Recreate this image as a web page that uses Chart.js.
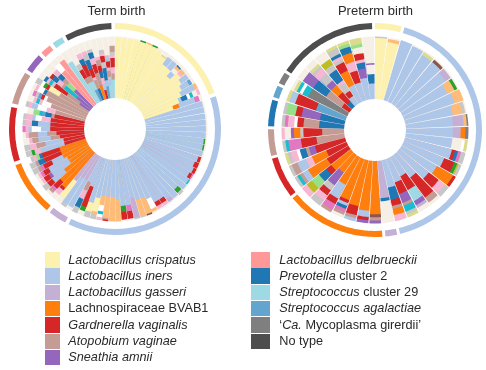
<!DOCTYPE html>
<html><head><meta charset="utf-8">
<script src="https://cdn.jsdelivr.net/npm/chart.js@4"></script>
<style>
html,body{margin:0;padding:0;background:#fff;width:486px;height:370px;overflow:hidden}
body{position:relative;font-family:"Liberation Sans",Arial,sans-serif;color:#2a2a2a}
canvas{position:absolute;filter:blur(0.35px)}
.t{position:absolute;font-size:13px;line-height:14px;white-space:nowrap;transform:translateX(-50%);filter:blur(0.25px)}
.sw{position:absolute;filter:blur(0.3px)}
.lb{position:absolute;font-size:12.7px;line-height:14px;white-space:nowrap;filter:blur(0.25px)}
</style></head><body>
<div class="t" style="left:116.5px;top:3.5px">Term birth</div>
<div class="t" style="left:375.5px;top:3.5px">Preterm birth</div>
<canvas id="term"></canvas>
<canvas id="preterm"></canvas>
<div id="legend"></div>
<script>
const palette = {A:'#FDF1B0',B:'#AEC7E8',C:'#C5B0D5',D:'#FF7F0E',E:'#D62728',F:'#C49C94',G:'#9467BD',H:'#FF9896',
  I:'#1F77B4',J:'#9EDAE5',K:'#64A5CF',L:'#7F7F7F',M:'#4D4D4D',N:'#FFBB78',O:'#2CA02C',P:'#98DF8A',Q:'#E377C2',
  R:'#F7B6D2',S:'#17BECF',T:'#BCBD22',U:'#DBDB8D',V:'#8C564B',W:'#C7C7C7',Y:'#F5EFE6',Z:'#FFFFFF'};

const termGroups = [18,34,3,8,8,5,3,2,2,7];
const termGroupKeys = ['A','B','C','D','E','F','G','H','J','M'];
const pretermGroups = [2,19,1,7,3,2,2,1,1,7];
const pretermGroupKeys = ['A','B','C','D','E','F','I','K','L','M'];

const termSamples = [
"A19.5 Y.5","A19.5 Y.5","A19.5 Y.5","A19.5 Y.5","A19.5 O.5","A19.5 N.5","A19.5 O.5","A19 Y1","A18 U.5 Y1.5","A16 B3 Y1","A16 B3 Y1",
"A14 B2 Y1.5 N1 I.5 Y1","A17 R1 N1 Y1","A16 B3 Y1","A15 B3 K1 Y1","A14 B5 N1","A12.5 B1 I2 Z1 S1 Y1.5 R1","A10 D2 B5.5 Q1.5 Y1",
"B19.5 Y.5","B19.5 Y.5","B19.5 Y.5","B19.5 Y.5","B19.5 Y.5","B19.5 Y.5","B19 O.5 Y.5","B19 O.5 Y.5","B19.5 Y.5","B18.5 E1 Y.5","B18 E1.5 Y.5",
"B18.5 E1 Y.5","B18 E1 Q.5 Y.5","B19 S.5 Y.5","B19.5 Y.5","B17.5 O1.5 W1","B19.5 Y.5","B18 C1.5 Y.5","B17 E1.5 R1 Y.5","B17 E1.5 R1 Y.5",
"B15 Z3.5 N1 Y.5","B14 N5.5 V.5","B14 N5.5 W.5","B13 C6.5 W.5","B15 Q2 E2.5 Y.5","B15 O2 E2.5 Y.5","B13 N7","B12 N8","B12 N7 F.5 E.5",
"B12 N3 Z2 S1 Z1 R1","B13 A4.5 N1 W1.5","B15 A3 W2","B10 E7 O1.5 Y1.5","B9 F3 R3 I3 W2",
"C9 B10 Y1","C9 B10 W1","C11 A7 Y2",
"D15 E1 R2 Y2","D14 E3 Q1 F1 Y1","D11 B5 E2 W2","D8 B7 G1 E2 R1 Y1","D8 B7 E2 Q1 R1 Y1","D9 B4 E3 Q1 F1 W2","D9 E6 I2 F1 W2","D9 E6 I1 P1 R1 W1",
"E7 B8 R2 O1 W2","E7 B6 F3 R2 W2","E8 F3 B4 F2 R1 Y2","E9 F3 B3 F3 R1 Y1","E11 B3 Z3 B1 R1 Q1","E11 B4 I2 R2 W1","E11 R3 Z2 B1 R2 W1","E10 F1 I2 K1 S1 P2 Y2",
"F10 R3 Z3 B2 R1 W1","F12 Z3 R1 S1 R1 Y2","F14 Z1 E1 K1 W1 Q1 Y1","F15 I1 Z2 R1 Y1","F11 A4 E1 O1 Z1 W2",
"G4 F5 E5 W1 S1 R1 I1 Y2","G6 S5 F1 R2 I2 E1 Y3","G8 P3 F2 I2 R2 Y3",
"H15 Z3 Y2","H18 Y2",
"J16 Y4","J7 F2 E3 W2 Y6",
"K4 J3 F2 E4 I2 R2 Y3","I4 F3 R1 E3 I3 W2 R1 Y3","D5 F4 E3 R2 I2 W1 Y3","E3 B2 R2 I2 E2 F2 R1 Y6","K4 B2 I4 W2 E2 R1 W1 Y4","J4 B2 W1 F2 R1 E2 B1 W1 Y6","J6 F2 R2 E3 R1 W1 F2 Y3"
];

const pretermSamples = [
"A19.5 W.5","A18.5 N1 Y.5","B20","B19.5 Y.5","B18.5 U1 Y.5","B18.5 V1 Y.5","B17.5 C2 Y.5","B16 N2.5 O1 Y.5","B17 N3","B15.5 N3 W1 Y.5",
"B15 C3.5 N1 L.5","B15 C2.5 D1.5 L1","B15 Y3 Z1 U1","B15.5 E1 I1 Q1 W1.5","B14 E3.5 O1 T.5 W1","B13 D6 E1","B12 E4 R2.5 W1.5","B9 E8 F2 Y1",
"B7 E5 J4 G1.5 C1 Y1.5","B8 E4 G3 F1 S2 W1 U1","B9 I4 E2 F1 D2 R2","C12 I1 Y7",
"D17 V1 F1 G1","D16 B2 E1 G1","D15 E3 F1 B1","D14 E1 B1 I1 Q1 F1 Y1","D10 B5 E2 Q2 F1","D7 G5 W2 E2 R2 W2","D8 E2 I3 P3 T2 R2",
"E8 D7 B2 F1 S1 W1","E7 D5 R2 B3 F2 W1","E10 G2 F1 I2 Z1 R2 W1 U1",
"F9 E5 Q4 S1 W1","F7 E6 W1 D2 G1 Y2 R1",
"I8 F5 E2 Z1 R2 Q1 W1","I8 G6 E2 P3 W1",
"K10 E7 B2 U1","L14 S2 Z1 S1 U1 Y1",
"E3 F6 I5 G4 Y2","I2 E4 D3 G2 W3 R2 W1 U1 Y2","B3 E2 W3 R1 I4 W2 T2 Y3","B6 D5 E3 W1 R1 I1 W2 U1","B6 E4 R3 D3 I2 P1 U1","B7 G3 I2 R1 E2 Y2 P1 U2","B5 I3 Y3 G.5 Y8.5"
];

const legendLeft = [
  ['A','<i>Lactobacillus crispatus</i>'],['B','<i>Lactobacillus iners</i>'],['C','<i>Lactobacillus gasseri</i>'],
  ['D','Lachnospiraceae BVAB1'],['E','<i>Gardnerella vaginalis</i>'],['F','<i>Atopobium vaginae</i>'],['G','<i>Sneathia amnii</i>']];
const legendRight = [
  ['H','<i>Lactobacillus delbrueckii</i>'],['I','<i>Prevotella</i> cluster 2'],['J','<i>Streptococcus</i> cluster 29'],
  ['K','<i>Streptococcus agalactiae</i>'],['L','‘<i>Ca.</i> Mycoplasma girerdii’'],['M','No type']];
const legendRows = [260,276,292.3,308.6,325,341.3,357.6];

const STACK_TOP = 20; // height of a full bar

function parseStack(code){
  return code.trim().split(/\s+/).map(p=>({k:p[0],n:parseFloat(p.slice(1))}));
}

function buildChart(id, samples, groups, keys, cx, cy, R, dataOuter, hole, ringW, gapDeg, sepDeg){
  const cv = document.getElementById(id);
  cv.width = 2*R; cv.height = 2*R;
  cv.style.left = (cx-R)+'px'; cv.style.top = (cy-R)+'px';
  const unit = (dataOuter-hole)/STACK_TOP;
  const rMin = -hole/unit, rMax = (R-hole)/unit;
  const bandTop = (R-ringW-hole)/unit;
  const stacks = samples.map(parseStack);
  const depth = Math.max(...stacks.map(s=>s.length));
  const step = 360/samples.length;

  const datasets=[];
  // centre hole, drawn on top: bars start at value 0
  datasets.push({data:[0],backgroundColor:'#FFFFFF',borderWidth:0});
  // white hairlines between samples, over the bars
  const sepVals=[],sepAngles=[];
  samples.forEach(()=>{sepVals.push(rMin,bandTop);sepAngles.push(step-sepDeg,sepDeg);});
  datasets.push({data:sepVals,backgroundColor:'#FFFFFF',borderWidth:0,angle:c=>sepAngles[c.dataIndex]});
  // bars: inner segments drawn over outer ones; each reaches its cumulative value
  for(let d=0;d<depth;d++){
    const vals=[],cols=[];
    stacks.forEach(s=>{
      if(d<s.length){
        let c=0; for(let j=0;j<=d;j++) c+=s[j].n;
        vals.push(c); cols.push(palette[s[d].k]);
      } else { vals.push(rMin); cols.push('#FFFFFF'); }
    });
    datasets.push({data:vals,backgroundColor:cols,borderWidth:0});
  }
  // white band between the bars and the group ring
  datasets.push({data:[bandTop],backgroundColor:'#FFFFFF',borderWidth:0});
  // group ring
  const ringVals=[],ringCols=[],ringAngles=[];
  groups.forEach((n,i)=>{
    ringVals.push(rMax,rMin); ringCols.push(palette[keys[i]],'#FFFFFF');
    ringAngles.push(n*step-gapDeg,gapDeg);
  });
  datasets.push({data:ringVals,backgroundColor:ringCols,borderWidth:0,angle:c=>ringAngles[c.dataIndex]});

  new Chart(cv,{type:'polarArea',data:{labels:samples.map((_,i)=>String(i)),datasets},
    options:{responsive:false,animation:false,devicePixelRatio:1,layout:{padding:0},
      scales:{r:{display:false,min:rMin,max:rMax,startAngle:0,ticks:{display:false},grid:{display:false},angleLines:{display:false},pointLabels:{display:false}}},
      plugins:{legend:{display:false},tooltip:{enabled:false},title:{display:false}}}});
}
buildChart('term',termSamples,termGroups,termGroupKeys,114.5,128.5,106,92.5,31,6,2,0.18);
buildChart('preterm',pretermSamples,pretermGroups,pretermGroupKeys,375.3,129.5,107,93.5,31,6,1.6,0.5);

const lg=document.getElementById('legend');
function addLegend(items,sx,sw,tx){
  items.forEach((it,i)=>{
    const y=legendRows[i];
    const s=document.createElement('div');s.className='sw';
    s.style.cssText=`left:${sx}px;top:${y-7.7}px;width:${sw}px;height:15.4px;background:${palette[it[0]]}`;
    const t=document.createElement('div');t.className='lb';
    t.style.cssText=`left:${tx}px;top:${y-7.5}px`;t.innerHTML=it[1];
    lg.append(s,t);
  });
}
addLegend(legendLeft,44.5,15,68.3);
addLegend(legendRight,251,19,279.3);
</script></body></html>
